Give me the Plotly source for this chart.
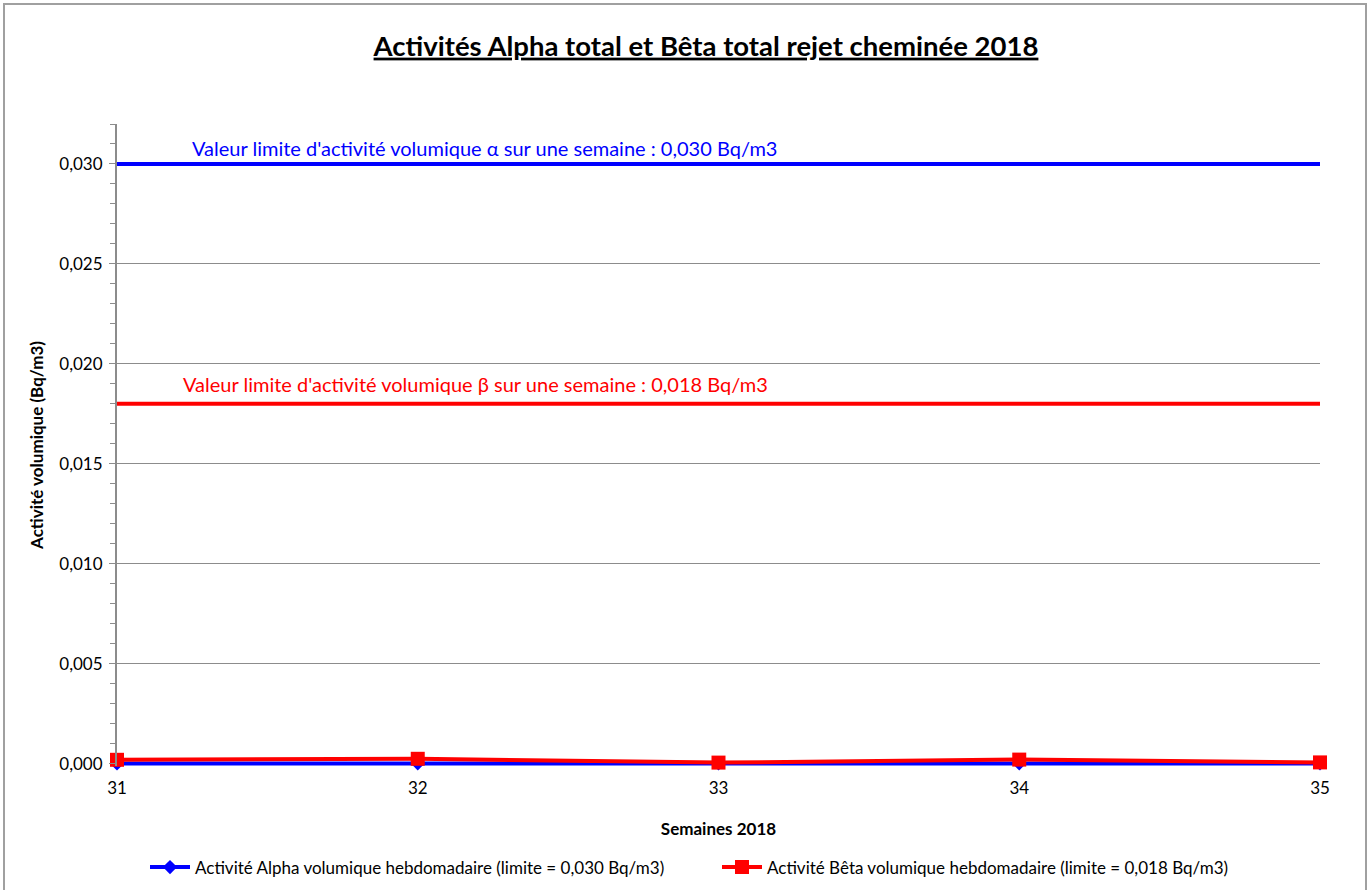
import plotly.graph_objects as go

weeks = [31, 32, 33, 34, 35]
alpha = [0.000010, 0.000012, 0.000008, 0.000015, 0.000010]
beta = [0.00019, 0.00024, 0.00005, 0.00020, 0.00006]
limit_x = [31, 35]
limit_alpha = [0.030, 0.030]
limit_beta = [0.018, 0.018]
y_ticks = [0.000, 0.005, 0.010, 0.015, 0.020, 0.025, 0.030]
y_tick_labels = ["0,000", "0,005", "0,010", "0,015", "0,020", "0,025", "0,030"]

title_text = "<b><u>Activités Alpha total et Bêta total rejet cheminée 2018</u></b>"
alpha_label = "Activité Alpha volumique hebdomadaire (limite = 0,030 Bq/m3)"
beta_label = "Activité Bêta volumique hebdomadaire (limite = 0,018 Bq/m3)"
alpha_limit_text = "Valeur limite d'activité volumique α sur une semaine : 0,030 Bq/m3"
beta_limit_text = "Valeur limite d'activité volumique β sur une semaine : 0,018 Bq/m3"

FONT = "Lato"
BLUE = "#0000FF"
RED = "#FF0000"
GRAY = "#8C8C8C"

T, B, L, R = 124, 123.6, 117, 50
PW = 1370 - L - R
PH = 890 - T - B

fig = go.Figure()
fig.add_trace(go.Scatter(x=limit_x, y=limit_alpha, mode="lines",
                         line=dict(color=BLUE, width=4), showlegend=False, hoverinfo="skip"))
fig.add_trace(go.Scatter(x=limit_x, y=limit_beta, mode="lines",
                         line=dict(color=RED, width=4), showlegend=False, hoverinfo="skip"))
fig.add_trace(go.Scatter(x=weeks, y=alpha, mode="lines+markers", name=alpha_label,
                         line=dict(color=BLUE, width=4), cliponaxis=False, legend="legend",
                         marker=dict(symbol="diamond", size=11, color=BLUE)))
fig.add_trace(go.Scatter(x=weeks, y=beta, mode="lines+markers", name=beta_label,
                         line=dict(color=RED, width=4), cliponaxis=False, legend="legend2",
                         marker=dict(symbol="square", size=14, color=RED)))

fig.add_annotation(x=0.0607, xref="paper", y=limit_alpha[0], yref="y", yshift=16,
                   text=alpha_limit_text, showarrow=False, xanchor="left",
                   font=dict(family=FONT, size=20, color=BLUE))
fig.add_annotation(x=0.053, xref="paper", y=limit_beta[0], yref="y", yshift=20,
                   text=beta_limit_text, showarrow=False, xanchor="left",
                   font=dict(family=FONT, size=20, color=RED))

fig.add_shape(type="rect", xref="paper", yref="paper",
              x0=-(L - 4) / PW, x1=(1366 - L) / PW, y0=-(B + 20) / PH, y1=1 + (T - 4) / PH,
              line=dict(color="#A0A0A0", width=2), fillcolor="rgba(0,0,0,0)", layer="below")

legend_y = -(868 - (890 - B)) / PH
fig.update_layout(
    width=1370, height=890,
    margin=dict(l=L, r=R, t=T, b=B, autoexpand=False),
    paper_bgcolor="white", plot_bgcolor="white",
    font=dict(family=FONT, size=17, color="black"),
    title=dict(text=title_text, x=(706 - L) / PW, xanchor="center", y=1 - 46 / 890, yanchor="middle",
               xref="paper", font=dict(family=FONT, size=27.5, color="black")),
    showlegend=True,
    legend=dict(orientation="h", x=(145 - L) / PW, xanchor="left", y=legend_y, yanchor="middle",
                font=dict(family=FONT, size=17), itemwidth=40, bgcolor="rgba(0,0,0,0)"),
    legend2=dict(orientation="h", x=(717 - L) / PW, xanchor="left", y=legend_y, yanchor="middle",
                 font=dict(family=FONT, size=17), itemwidth=40, bgcolor="rgba(0,0,0,0)"),
    xaxis=dict(range=[31, 35], tickvals=weeks, ticktext=[str(w) for w in weeks],
               showgrid=False, zeroline=False, showline=False, ticks="", ticklabelstandoff=10,
               tickfont=dict(family=FONT, size=17), automargin=False,
               title=dict(text="<b>Semaines 2018</b>", font=dict(family=FONT, size=17), standoff=26)),
    yaxis=dict(range=[-0.00012, 0.032], tickvals=y_ticks, ticktext=y_tick_labels,
               showgrid=True, gridcolor=GRAY, gridwidth=1, automargin=False,
               zeroline=False, showline=True, linecolor=GRAY, linewidth=2,
               ticks="outside", ticklen=6, tickcolor=GRAY, ticklabelstandoff=3,
               minor=dict(tick0=0, dtick=0.001, ticks="outside", ticklen=5, tickcolor=GRAY, showgrid=False),
               tickfont=dict(family=FONT, size=17),
               title=dict(text="<b>Activité volumique (Bq/m3)</b>", font=dict(family=FONT, size=17), standoff=11)),
)

fig.write_html("out.html", config={"displayModeBar": False},
               post_script="document.body.style.margin='0px';document.body.style.overflow='hidden';")
